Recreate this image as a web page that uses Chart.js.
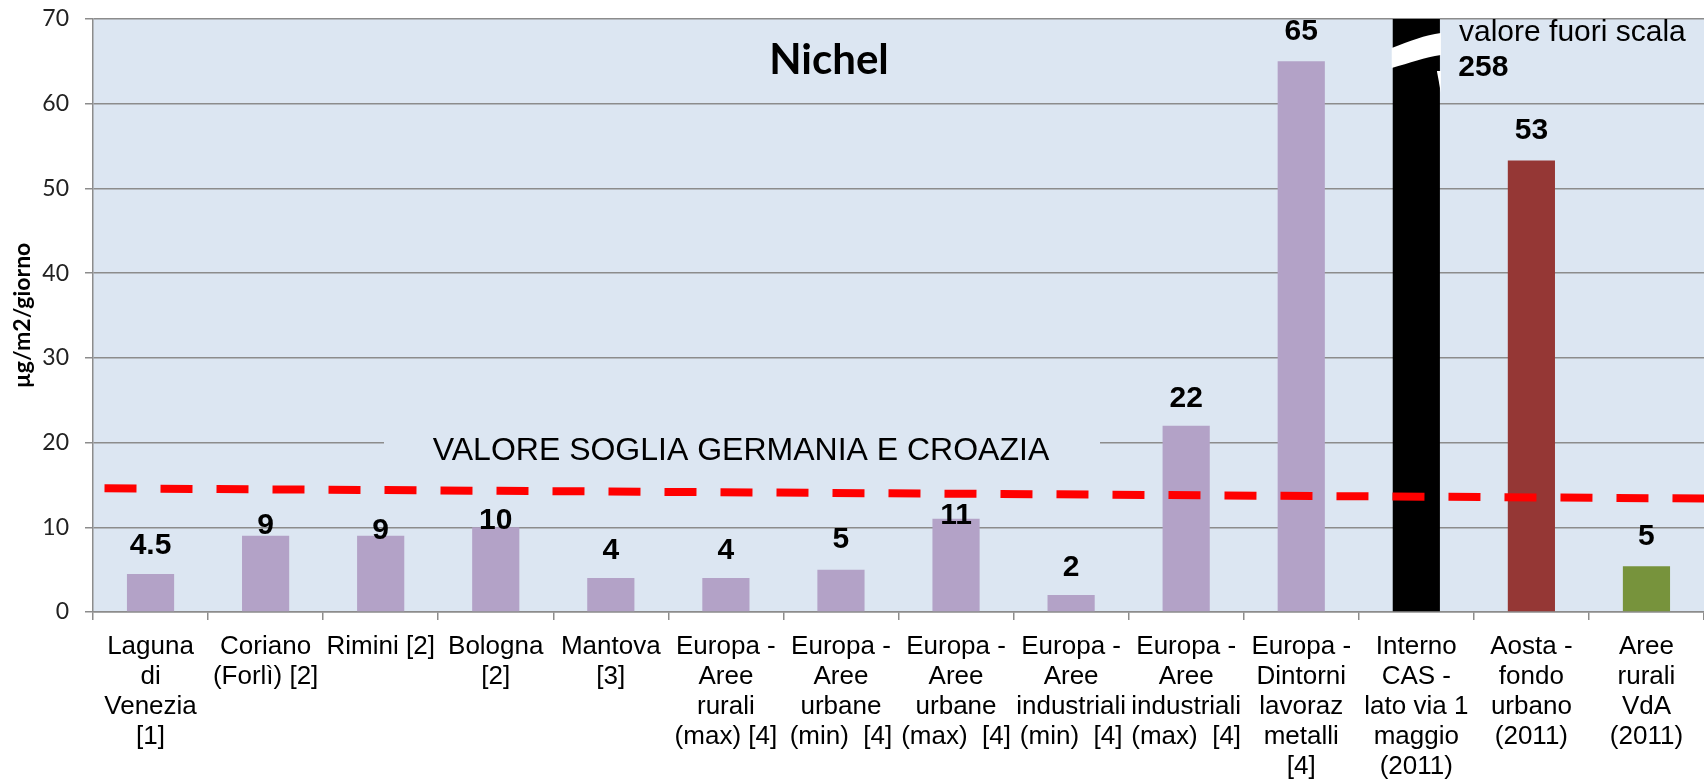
<!DOCTYPE html>
<html>
<head>
<meta charset="utf-8">
<script src="https://cdn.jsdelivr.net/npm/chart.js@4.4.1/dist/chart.umd.min.js"></script>
<style>
  html, body { margin: 0; padding: 0; background: #fff; }
</style>
</head>
<body>
<canvas id="chartCanvas" width="1704" height="782"></canvas>
<script>
// data
const categories = [
    ["Laguna", "di", "Venezia", "[1]"],
    ["Coriano", "(Forlì) [2]"],
    ["Rimini [2]"],
    ["Bologna", "[2]"],
    ["Mantova", "[3]"],
    ["Europa -", "Aree", "rurali", "(max) [4]"],
    ["Europa -", "Aree", "urbane", "(min)  [4]"],
    ["Europa -", "Aree", "urbane", "(max)  [4]"],
    ["Europa -", "Aree", "industriali", "(min)  [4]"],
    ["Europa -", "Aree", "industriali", "(max)  [4]"],
    ["Europa -", "Dintorni", "lavoraz", "metalli", "[4]"],
    ["Interno", "CAS -", "lato via 1", "maggio", "(2011)"],
    ["Aosta -", "fondo", "urbano", "(2011)"],
    ["Aree", "rurali", "VdA", "(2011)"]
];
const nichelValues = [4.5, 9, 9, 10, 4, 4, 5, 11, 2, 22, 65, 258, 53.3, 5.4];
const valueLabels = ["4.5", "9", "9", "10", "4", "4", "5", "11", "2", "22", "65", "258", "53", "5"];
const thresholdPoints = [{ x: 0.1, y: 14.6 }, { x: 14, y: 13.4 }];
const yMin = 0, yMax = 70, yStep = 10;

const purple = "#b3a2c7";
const barColors = [purple, purple, purple, purple, purple, purple, purple, purple,
    purple, purple, purple, "#000000", "#953735", "#77933c"];
// how far each value label sits above its bar (px)
const labelLift = [28, 10, 5, 7, 27, 27, 30, 3, 27, 27, 30, 0, 30, 30];

const gridColor = "#8c8c8c";
const plotColor = "#dce6f2";

const extras = {
    id: "extras",
    beforeDraw(chart) {
        const { ctx, chartArea: a } = chart;
        ctx.save();
        ctx.fillStyle = plotColor;
        ctx.fillRect(a.left, a.top, a.right - a.left, a.bottom - a.top);
        ctx.restore();
    },
    beforeDatasetsDraw(chart) {
        const { ctx, chartArea: a } = chart;
        ctx.save();
        // text box that hides part of the 20 gridline
        ctx.fillStyle = plotColor;
        ctx.fillRect(a.left + 291, 428, 716, 44);
        ctx.fillStyle = "#000";
        ctx.textAlign = "center";
        ctx.textBaseline = "middle";
        ctx.font = "32px 'Liberation Sans', Arial, sans-serif";
        ctx.fillText("VALORE SOGLIA GERMANIA E CROAZIA", a.left + 648, 451);
        ctx.font = "bold 42px Lato, 'Open Sans', sans-serif";
        ctx.fillText("Nichel", a.left + 736, 60);
        ctx.restore();
    },
    afterDatasetsDraw(chart) {
        const { ctx, chartArea: a } = chart;
        const meta = chart.getDatasetMeta(0);
        const yScale = chart.scales.y;
        ctx.save();
        ctx.fillStyle = "#000";
        ctx.textAlign = "center";
        ctx.textBaseline = "middle";
        ctx.font = "bold 30px 'Liberation Sans', Arial, sans-serif";
        meta.data.forEach((bar, i) => {
            if (nichelValues[i] > yScale.max) {
                // out of scale bar: break mark + label at the side
                const l = bar.x - bar.width / 2 - 1, r = bar.x + bar.width / 2 + 1;
                const t = a.top;
                ctx.save();
                ctx.fillStyle = "#fff";
                ctx.beginPath();
                ctx.moveTo(l, t + 29);
                ctx.bezierCurveTo(l + 18, t + 22, r - 16, t + 16, r, t + 14);
                ctx.lineTo(r, t + 36);
                ctx.bezierCurveTo(r - 16, t + 38, l + 18, t + 44, l, t + 49);
                ctx.closePath();
                ctx.fill();
                ctx.beginPath();
                ctx.moveTo(r, t + 52);
                ctx.lineTo(r, t + 74);
                ctx.lineTo(r - 4, t + 52);
                ctx.closePath();
                ctx.fill();
                ctx.restore();
                ctx.fillText(valueLabels[i], bar.x + 67, t + 49);
                return;
            }
            ctx.fillText(valueLabels[i], bar.x, bar.y - labelLift[i]);
        });
        ctx.font = "30px 'Liberation Sans', Arial, sans-serif";
        ctx.textAlign = "left";
        ctx.fillText("valore fuori scala", a.left + 1366, a.top + 14);
        ctx.restore();
    }
};

const ctx = document.getElementById("chartCanvas");

new Chart(ctx, {
    data: {
        labels: categories,
        datasets: [
            {
                type: "bar",
                data: nichelValues,
                backgroundColor: barColors,
                barPercentage: 0.41,
                categoryPercentage: 1,
                grouped: false,
                order: 1
            },
            {
                type: "line",
                data: thresholdPoints,
                xAxisID: "xl",
                borderColor: "#ff0000",
                borderWidth: 8,
                borderDash: [32, 24],
                borderCapStyle: "butt",
                pointRadius: 0,
                fill: false,
                order: 0
            }
        ]
    },
    plugins: [extras],
    options: {
        responsive: false,
        devicePixelRatio: 1,
        animation: false,
        layout: { padding: { top: 19, right: 0, left: 0, bottom: 0 } },
        plugins: {
            legend: { display: false },
            tooltip: { enabled: false }
        },
        scales: {
            x: {
                type: "category",
                offset: true,
                grid: {
                    offset: true,
                    drawOnChartArea: false,
                    drawTicks: true,
                    tickLength: 8,
                    color: gridColor,
                    lineWidth: 1.5
                },
                border: { display: true, color: gridColor, width: 1.5 },
                ticks: {
                    autoSkip: false,
                    maxRotation: 0,
                    minRotation: 0,
                    padding: 12,
                    color: "#000",
                    font: { family: "'Liberation Sans', Arial, sans-serif", size: 26, lineHeight: "30px" }
                },
                afterFit(scale) { scale.height = 170; }
            },
            xl: {
                type: "linear",
                display: false,
                min: 0,
                max: 14
            },
            y: {
                min: yMin,
                max: yMax,
                ticks: {
                    stepSize: yStep,
                    padding: 16,
                    color: "#222",
                    font: { family: "Lato, 'Open Sans', sans-serif", size: 23 }
                },
                grid: { color: gridColor, lineWidth: 1.5, tickLength: 8 },
                border: { color: gridColor, width: 1.5 },
                title: {
                    display: true,
                    text: "µg/m2/giorno",
                    color: "#000",
                    padding: { top: 9, bottom: 0 },
                    font: { family: "Lato, 'Open Sans', sans-serif", size: 23, weight: "bold", lineHeight: 1.2 }
                },
                afterFit(scale) {
                    scale.width = 93;
                    scale.paddingTop = 0;
                    scale.paddingBottom = 0;
                }
            }
        }
    }
});
</script>
</body>
</html>
